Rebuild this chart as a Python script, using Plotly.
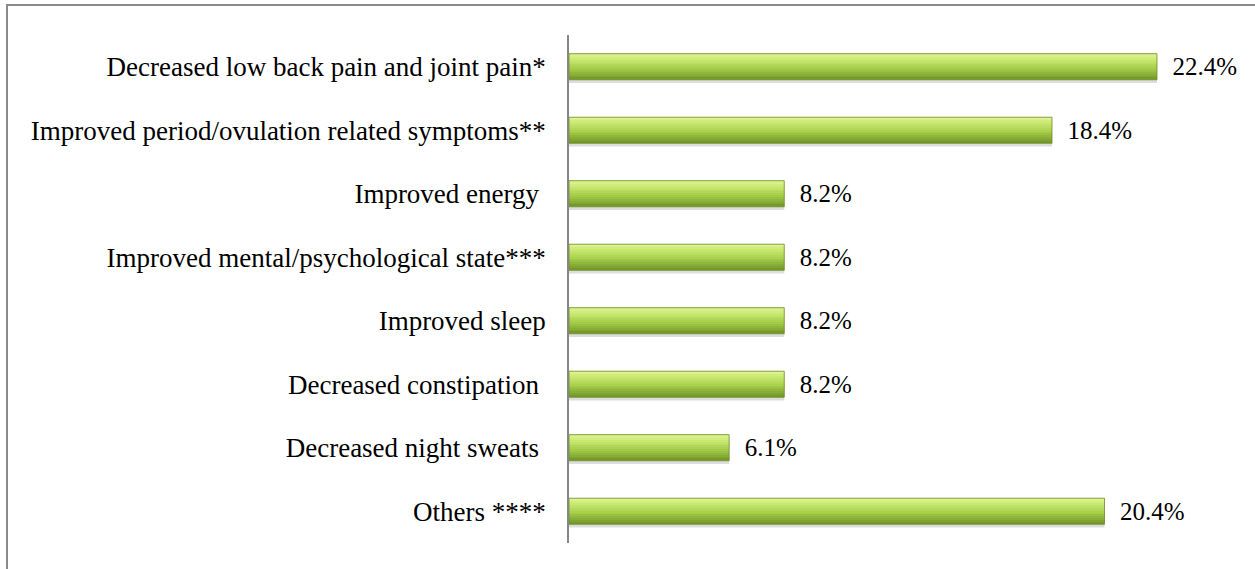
import plotly.graph_objects as go

categories = [
    "Decreased low back pain and joint pain*",
    "Improved period/ovulation related symptoms**",
    "Improved energy\u00a0",
    "Improved mental/psychological state***",
    "Improved sleep",
    "Decreased constipation\u00a0",
    "Decreased night sweats\u00a0",
    "Others ****",
]
values = [22.4, 18.4, 8.2, 8.2, 8.2, 8.2, 6.1, 20.4]
value_labels = ["22.4%", "18.4%", "8.2%", "8.2%", "8.2%", "8.2%", "6.1%", "20.4%"]

W, H = 1255, 569
ML, MR, MT, MB = 569, 30, 35, 26
pos = list(range(len(categories)))

fig = go.Figure()

bar_h = 0.41
# soft shadow
fig.add_trace(go.Bar(
    y=pos, x=values, orientation="h", width=bar_h, offset=-bar_h / 2 + 0.05,
    marker=dict(color="rgba(120,120,120,0.25)", line=dict(width=0)),
    hoverinfo="skip", showlegend=False,
))

# gradient stripes (top light -> bottom dark)
stops = [(0.0, (226, 246, 156)), (0.25, (200, 232, 112)), (0.6, (164, 204, 72)), (1.0, (112, 148, 40))]

def interp(t):
    for (t0, c0), (t1, c1) in zip(stops[:-1], stops[1:]):
        if t0 <= t <= t1:
            f = (t - t0) / (t1 - t0)
            return "rgb(%d,%d,%d)" % tuple(round(a + (b - a) * f) for a, b in zip(c0, c1))
    return "rgb(%d,%d,%d)" % stops[-1][1]

N = 14
sw = bar_h / N
for i in range(N):
    t = (i + 0.5) / N
    fig.add_trace(go.Bar(
        y=pos, x=values, orientation="h", width=sw * 1.05,
        offset=-bar_h / 2 + i * sw,
        marker=dict(color=interp(t), line=dict(width=0)),
        hoverinfo="skip", showlegend=False,
    ))

# outline + labels
fig.add_trace(go.Bar(
    y=pos, x=values, orientation="h", width=bar_h, offset=-bar_h / 2,
    marker=dict(color="rgba(0,0,0,0)", line=dict(width=1, color="rgba(110,140,40,0.8)")),
    text=value_labels, texttemplate="\u00a0\u00a0%{text}",
    textposition="outside", cliponaxis=False, constraintext="none",
    textfont=dict(family="Liberation Serif", size=25, color="black"),
    hoverinfo="skip", showlegend=False,
))

pw = W - ML - MR
ph = H - MT - MB
fig.add_shape(type="rect", xref="paper", yref="paper",
              x0=(7 - ML) / pw, x1=(W + 5 - ML) / pw,
              y0=-(MB + 5) / ph, y1=(ph + MT - 5) / ph,
              line=dict(color="#8a8a8a", width=2), layer="below")

fig.update_layout(
    width=W, height=H,
    margin=dict(l=ML, r=MR, t=MT, b=MB, pad=0),
    barmode="overlay",
    plot_bgcolor="white", paper_bgcolor="white",
    font=dict(family="Liberation Serif", size=27, color="black"),
    xaxis=dict(range=[0, pw / 26.25], visible=False, showgrid=False, zeroline=False),
    yaxis=dict(tickvals=pos, ticktext=categories, range=[7.5, -0.5],
               showline=True, linecolor="#868686", linewidth=1.5,
               showgrid=False, zeroline=False, ticks="", ticklabelstandoff=16,
               automargin=False,
               tickfont=dict(family="Liberation Serif", size=27, color="black")),
)

fig.write_html("out.html", config={"displayModeBar": False},
               post_script="document.body.style.margin='0';")
